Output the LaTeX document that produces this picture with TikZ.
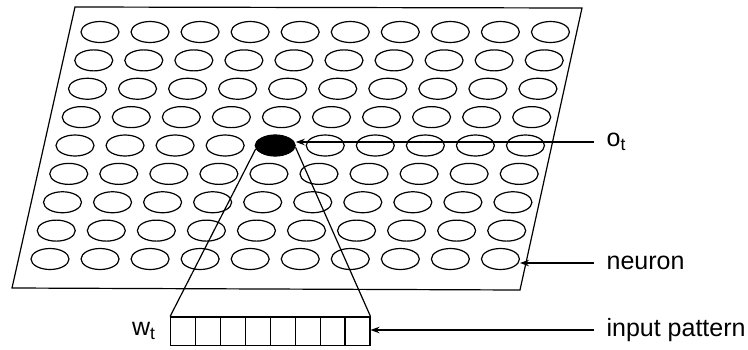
\documentclass[tikz,border=0pt]{standalone}
\usepackage{fontspec}
\setmainfont{Liberation Sans}
\usetikzlibrary{arrows.meta,positioning,shapes.geometric,calc}

\begin{document}
\begin{tikzpicture}[x=1pt,y=-1pt,line width=1.2pt,
    cell/.style={draw,ellipse,minimum width=38pt,minimum height=21pt,inner sep=0pt},
    bit/.style={draw,minimum width=24.9pt,minimum height=28.5pt,inner sep=0pt},
    lab/.style={font=\fontsize{25}{29}\selectfont,inner sep=0pt,anchor=west},
    arr/.style={-{Stealth[length=9pt,width=6.5pt]}}]
  \useasboundingbox (0,0) rectangle (748,349);
  % the map sheet
  \draw (75,7) -- (582,8) -- (520,290) -- (12,288) -- cycle;
  % neurons
  \foreach \r in {1,...,9}
    \foreach \c in {1,...,10}
      \node[cell] (n-\r-\c) at ({100-6.25*(\r-1)+50.05*(\c-1)},{32+28.375*(\r-1)}) {};
  \node[cell,fill=black,minimum width=40pt,minimum height=20pt] (win) at (n-5-5) {};
  % input pattern
  \foreach \i in {1,...,8}
    \node[bit] (w-\i) at ({183.15+24.9*(\i-1)},331.3) {};
  \draw (win.190) -- (w-1.north west);
  \draw (win.-5) -- (w-8.north east);
  % labels
  \coordinate (ostart) at (594,142);
  \coordinate (nstart) at (594,263);
  \coordinate (istart) at (594,330);
  \node[lab,right=12pt of ostart] (otlab) {o\textsubscript{t}};
  \node[lab,right=12pt of nstart] (neulab) {neuron};
  \node[lab,right=12pt of istart] (inlab) {input pattern};
  \node[lab,left=14pt of w-1] (wtlab) {w\textsubscript{t}};
  \draw[arr] (ostart) -- (ostart -| win.east);
  \draw[arr] (nstart) -- (nstart -| n-9-10.east);
  \draw[arr] (istart) -- (istart -| w-8.east);
\end{tikzpicture}
\end{document}
